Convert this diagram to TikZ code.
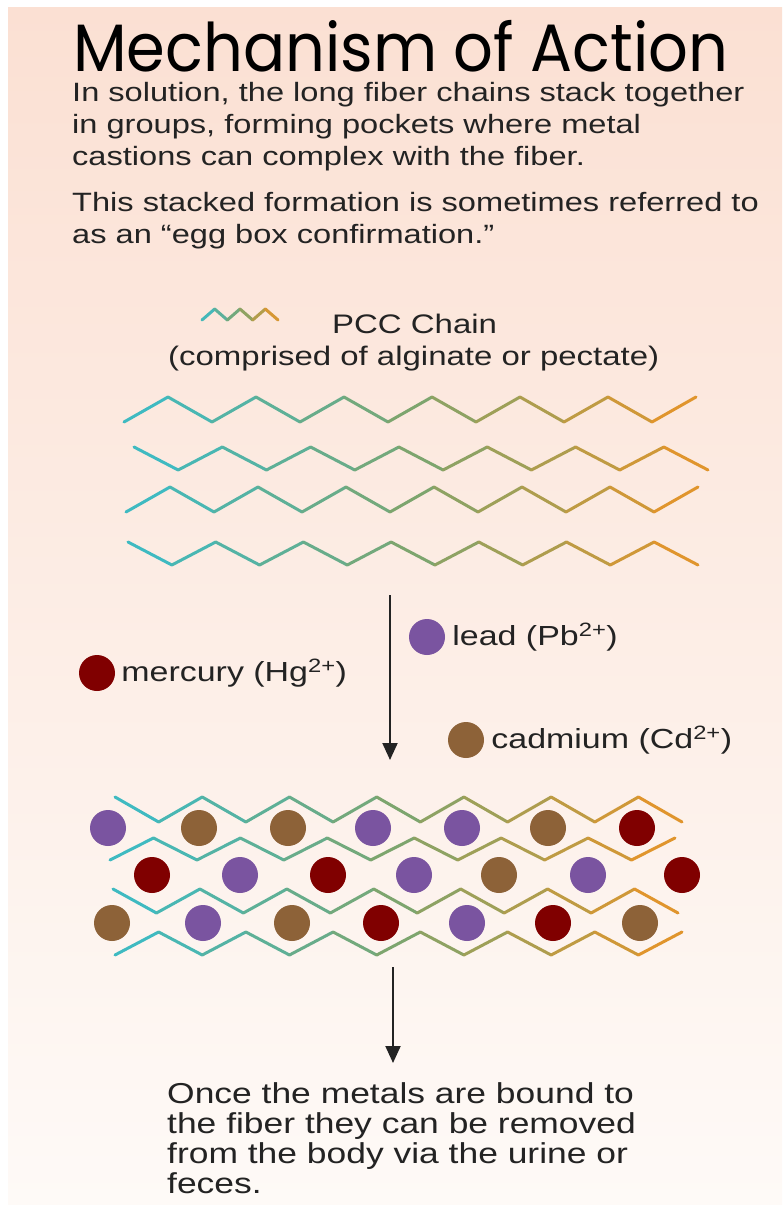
\documentclass[tikz,border=0pt]{standalone}
\usepackage{fontspec}
\setmainfont{Liberation Sans}[FakeStretch=1.23]
\newfontfamily\titlefont{Poppins}[FakeStretch=0.93]
\usetikzlibrary{arrows.meta, positioning}

\definecolor{bgtop}{RGB}{251,224,211}
\definecolor{bgmid}{RGB}{252,238,230}
\definecolor{bgbot}{RGB}{254,250,247}
\definecolor{pccteal}{RGB}{58,188,200}
\definecolor{pccgreen}{RGB}{125,165,110}
\definecolor{pccorange}{RGB}{232,148,40}
\definecolor{pbpurple}{RGB}{122,84,160}
\definecolor{cdbrown}{RGB}{141,98,56}
\definecolor{hgred}{RGB}{128,0,0}
\definecolor{inkgray}{RGB}{35,35,35}

% zigzag chain, tinted teal -> green -> orange from left to right
% #1 start x, #2 end x, #3 y of first point, #4 y of second point, #5 segments
\newcommand{\pccchain}[5]{%
  \foreach \k in {1,...,#5}{%
    \pgfmathsetmacro{\xa}{#1+(#2-#1)*(\k-1)/#5}
    \pgfmathsetmacro{\xb}{#1+(#2-#1)*\k/#5}
    \pgfmathsetmacro{\ya}{isodd(\k) ? #3 : #4}
    \pgfmathsetmacro{\yb}{isodd(\k) ? #4 : #3}
    \pgfmathsetmacro{\tpos}{(\k-0.5)/#5}
    \pgfmathsetmacro{\shareA}{max(0,100-200*\tpos)}
    \pgfmathsetmacro{\shareB}{min(100,200-200*\tpos)}
    \ifdim\tpos pt<0.5pt
      \colorlet{segc}{pccteal!\shareA!pccgreen}
    \else
      \colorlet{segc}{pccgreen!\shareB!pccorange}
    \fi
    \draw[pccline, segc] (\xa,\ya) -- (\xb,\yb);
  }%
}

\begin{document}
\begin{tikzpicture}[x=1pt, y=-1pt,
    pccline/.style={line width=3pt, line cap=round, line join=round},
    metal/.style={circle, inner sep=0pt, minimum size=36pt},
    flow/.style={line width=2pt, inkgray, -{Triangle[length=17pt, width=15pt]}},
    legend/.style={inner sep=0pt, text=inkgray, font=\fontsize{26.8}{30}\selectfont},
    ionlabel/.style={legend, font=\fontsize{27.6}{30}\selectfont}]
        % page and backdrop
        \fill[white] (0,0) rectangle (782,1205);
        \shade[top color=bgtop, middle color=bgmid, bottom color=bgbot] (8,7) rectangle (782,1205);
        \useasboundingbox (0,0) rectangle (782,1205);

        % heading (multi-line nodes sit on their last baseline)
        \node[anchor=base west, inner sep=0pt, text=black, font=\titlefont\fontsize{67}{67}\selectfont] (title) at (73,71) {Mechanism of Action};
        \node[anchor=base west, align=left, inner sep=0pt, text=inkgray, font=\fontsize{26.5}{32}\selectfont] (intro) at (72,243) {In solution, the long fiber chains stack together\\in groups, forming pockets where metal\\castions can complex with the fiber.\\[14pt]This stacked formation is sometimes referred to\\as an “egg box confirmation.”};

        % chain legend
        \pccchain{202}{278}{320}{309}{6}
        \node[legend, anchor=base west] (pcclabel) at (332,333) {PCC Chain};
        \node[legend, anchor=base west] (pccnote) at (168,365) {(comprised of alginate or pectate)};

        % loose chains
        \pccchain{124}{696}{422}{397}{13}
        \pccchain{134}{708}{447}{470}{13}
        \pccchain{126}{698}{512}{487}{13}
        \pccchain{128}{698}{542}{565}{13}

        \coordinate (stackfoot) at (390,595);
        \coordinate (boxtop) at (390,760);
        \draw[flow] (stackfoot) -- (boxtop);

        % metal legend
        \node[metal, fill=hgred] (hgdot) at (97,673) {};
        \node[ionlabel, right=6pt of hgdot] (hglabel) {mercury (Hg\textsuperscript{2+})};
        \node[metal, fill=pbpurple] (pbdot) at (427,637) {};
        \node[ionlabel, right=7pt of pbdot] (pblabel) {lead (Pb\textsuperscript{2+})};
        \node[metal, fill=cdbrown] (cddot) at (466,740) {};
        \node[ionlabel, right=7pt of cddot] (cdlabel) {cadmium (Cd\textsuperscript{2+})};

        % egg box
        \pccchain{115}{682}{797}{822}{13}
        \pccchain{110}{675}{860}{838}{13}
        \pccchain{113}{678}{889}{913}{13}
        \pccchain{115}{682}{955}{932}{13}
        \foreach \x/\c [count=\i] in {108/pbpurple, 199/cdbrown, 288/cdbrown, 373/pbpurple, 462/pbpurple, 548/cdbrown, 637/hgred}
            \node[metal, fill=\c] (upper\i) at (\x,828) {};
        \foreach \x/\c [count=\i] in {152/hgred, 240/pbpurple, 328/hgred, 414/pbpurple, 499/cdbrown, 588/pbpurple, 682/hgred}
            \node[metal, fill=\c] (middle\i) at (\x,875) {};
        \foreach \x/\c [count=\i] in {112/cdbrown, 203/pbpurple, 292/cdbrown, 381/hgred, 467/pbpurple, 553/hgred, 640/cdbrown}
            \node[metal, fill=\c] (lower\i) at (\x,923) {};

        \coordinate (boxfoot) at (393,967);
        \coordinate (outlet) at (393,1063);
        \draw[flow] (boxfoot) -- (outlet);

        \node[anchor=base west, align=left, inner sep=0pt, text=inkgray, font=\fontsize{28.8}{30}\selectfont] (removal) at (167,1193) {Once the metals are bound to\\the fiber they can be removed\\from the body via the urine or\\feces.};
    \end{tikzpicture}
\end{document}
